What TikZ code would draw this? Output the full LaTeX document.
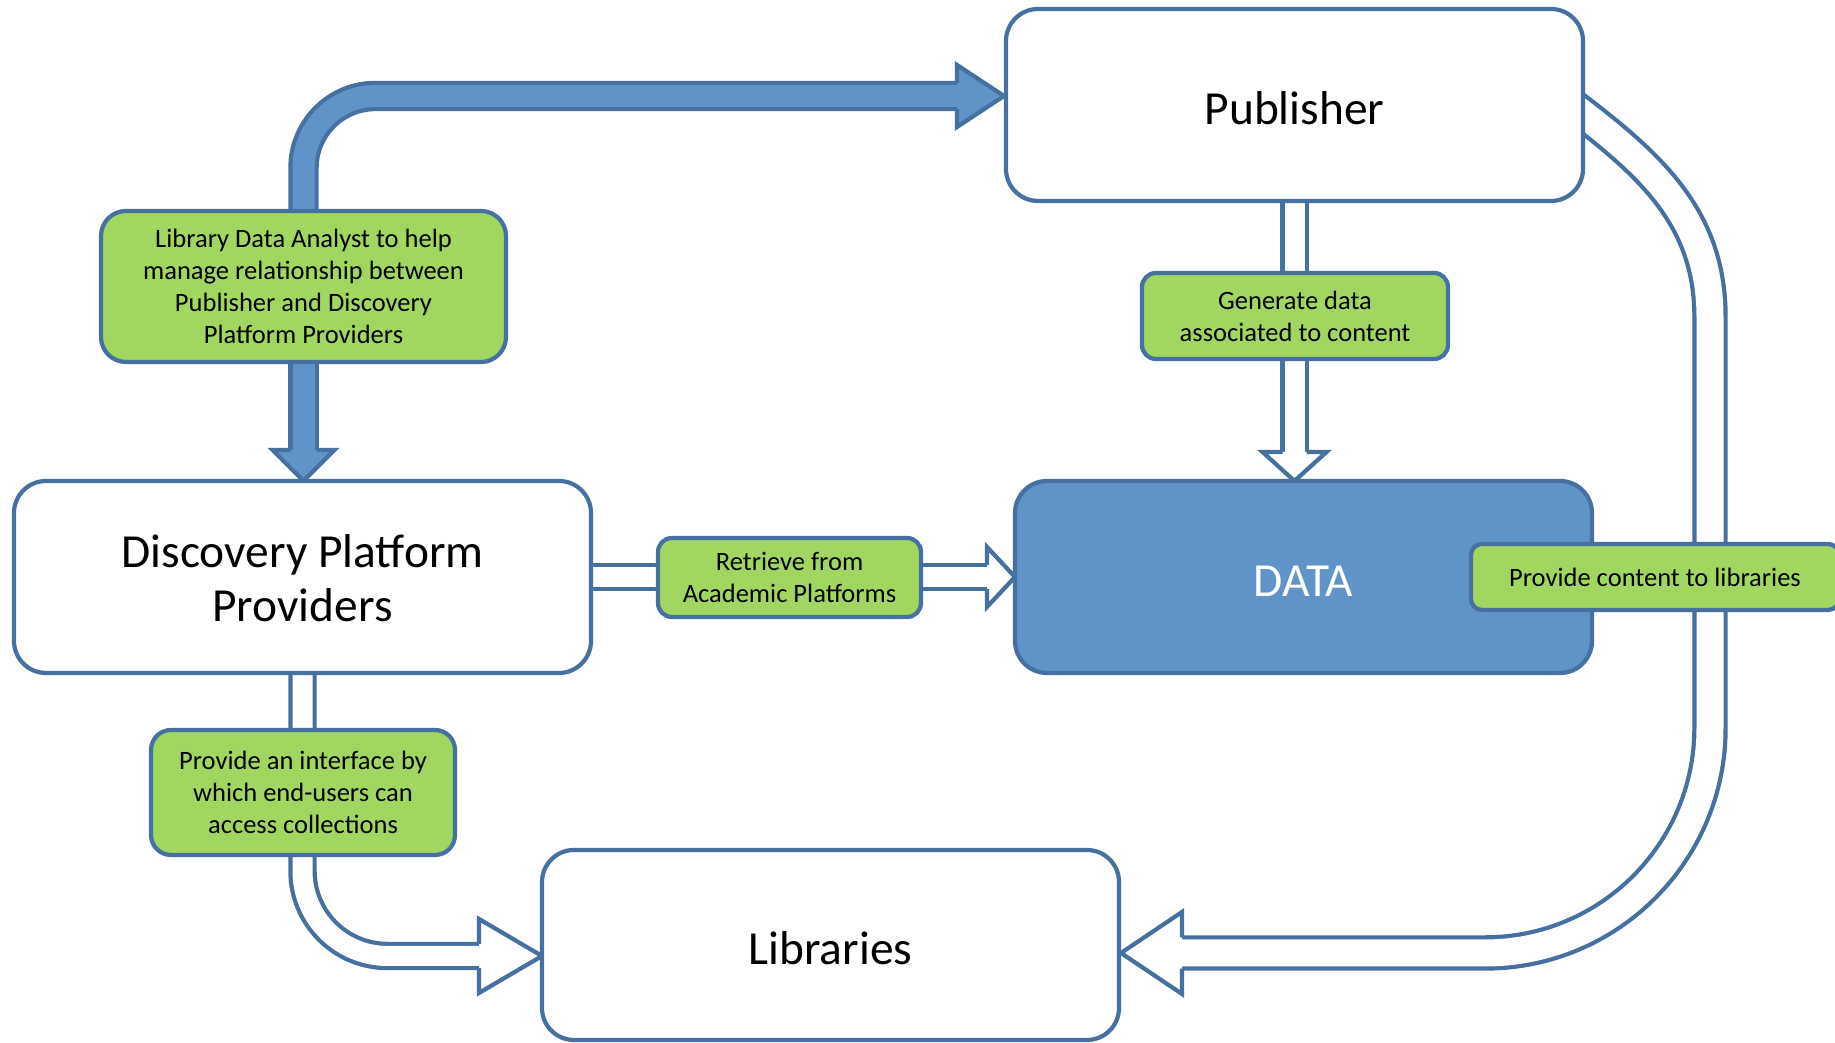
\documentclass[tikz,border=0pt]{standalone}
\usepackage{fontspec}
\setmainfont{Carlito}
\usepackage{tikz}
\usetikzlibrary{backgrounds}

\definecolor{edgeblue}{RGB}{70,112,160}
\definecolor{fillblue}{RGB}{96,148,201}
\definecolor{notegreen}{RGB}{161,214,97}

\tikzset{
  bigbox/.style={draw=edgeblue, line width=1.2pt, fill=white, rounded corners=0.32cm,
    minimum width=5.77cm, minimum height=1.92cm, inner sep=0pt, align=center,
    text height=0.5cm, text depth=0.1cm, font=\fontsize{13.5}{15.6}\selectfont},
  notebox/.style={draw=edgeblue, line width=1.2pt, fill=notegreen, rounded corners=0.14cm,
    inner sep=0pt, align=center, font=\fontsize{7.55}{9.1}\selectfont},
  hollow/.style={draw=edgeblue, line width=1.2pt, double=white, double distance=0.2cm},
  bluearrow/.style={draw=edgeblue, line width=1.2pt, double=fillblue, double distance=0.22cm},
  hollowhead/.style={draw=edgeblue, line width=1.2pt, fill=white, line join=miter},
  bluehead/.style={draw=edgeblue, line width=1.2pt, fill=fillblue, line join=miter}
}

\begin{document}
\begin{tikzpicture}
    \useasboundingbox (0,0) rectangle (18.35,10.43);

    % Define nodes
    \node[bigbox] (pub) at (12.945,9.38) {Publisher};
    \node[bigbox, text height=1.0cm, text depth=0.1cm] (dpp) at (3.025,4.66) {Discovery Platform\\Providers};
    \node[bigbox, fill=fillblue, text=white] (data) at (13.035,4.66) {DATA};
    \node[bigbox, minimum height=1.90cm] (lib) at (8.305,0.98) {Libraries};

    \node[notebox, minimum width=4.05cm, minimum height=1.51cm, rounded corners=0.25cm] (analyst) at (3.035,7.565)
        {Library Data Analyst to help\\manage relationship between\\Publisher and Discovery\\Platform Providers};
    \node[notebox, minimum width=3.06cm, minimum height=0.86cm] (gen) at (12.95,7.27)
        {Generate data\\associated to content};
    \node[notebox, minimum width=2.63cm, minimum height=0.79cm] (retr) at (7.895,4.655)
        {Retrieve from\\Academic Platforms};
    \node[notebox, minimum width=3.68cm, minimum height=0.66cm, rounded corners=0.11cm] (content) at (16.55,4.66)
        {Provide content to libraries};
    \node[notebox, minimum width=3.04cm, minimum height=1.25cm, rounded corners=0.2cm] (iface) at (3.03,2.505)
        {Provide an interface by\\which end-users can\\access collections};

    % Arrow heads sit on these points
    \coordinate (pubin) at (9.57,9.47);
    \coordinate (dppin) at (3.035,5.93);
    \coordinate (datain) at (12.945,5.91);
    \coordinate (dataleft) at (9.87,4.66);
    \coordinate (libleft) at (4.79,0.87);
    \coordinate (bend) at (17.10,7.26);
    \coordinate (libright) at (11.82,0.90);

    % Draw edges
    \begin{scope}[on background layer]
        \draw[bluearrow, rounded corners=0.72cm] (analyst.north) |- (pubin);
        \filldraw[bluehead] ([yshift=1.3mm]pubin) -- ++(0,1.8mm) -- ++(4.7mm,-3.1mm) -- ++(-4.7mm,-3.1mm) -- ++(0,1.8mm);

        \draw[bluearrow] (analyst.south) -- (dppin);
        \filldraw[bluehead] ([xshift=-1.3mm]dppin) -- ++(-1.8mm,0) -- ++(3.1mm,-3.1mm) -- ++(3.1mm,3.1mm) -- ++(-1.8mm,0);

        \draw[hollow] (pub.south) -- (datain);
        \filldraw[hollowhead] ([xshift=-1.2mm]datain) -- ++(-2mm,0) -- ++(3.2mm,-2.9mm) -- ++(3.2mm,2.9mm) -- ++(-2mm,0);

        \draw[hollow] (dpp.east) -- (dataleft);
        \filldraw[hollowhead] ([yshift=1.2mm]dataleft) -- ++(0,1.8mm) -- ++(2.8mm,-3mm) -- ++(-2.8mm,-3mm) -- ++(0,1.8mm);

        \draw[hollow, rounded corners=0.85cm] (dpp.south) |- (libleft);
        \filldraw[hollowhead] ([yshift=1.2mm]libleft) -- ++(0,2.5mm) -- ++(6.3mm,-3.7mm) -- ++(-6.3mm,-3.7mm) -- ++(0,2.5mm);

        \draw[hollow, double distance=0.27cm] ([shift={(-0.23,0.07)}]pub.east) to[out=-37,in=90] (bend)
            {[rounded corners=2.25cm] -- (bend |- libright) -- (libright)};
        \filldraw[hollowhead] ([yshift=1.56mm]libright) -- ++(0,2.54mm) -- ++(-6.1mm,-4.1mm) -- ++(6.1mm,-4.1mm) -- ++(0,2.54mm);
    \end{scope}
\end{tikzpicture}
\end{document}
